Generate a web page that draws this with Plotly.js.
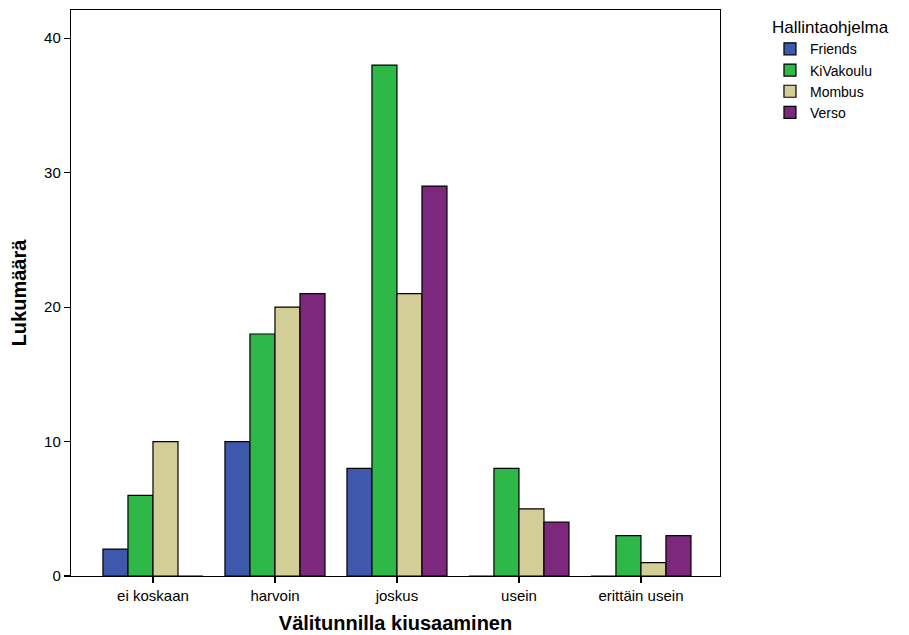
<!DOCTYPE html>
<html>
<head>
<meta charset="utf-8">
<script src="https://cdn.plot.ly/plotly-3.0.1.min.js"></script>
<style>html,body{margin:0;padding:0;background:#fff;}</style>
</head>
<body>
<div id="chart" style="width:909px;height:635px;"></div>
<script>
const categories = ["ei koskaan", "harvoin", "joskus", "usein", "erittäin usein"];
const seriesNames = ["Friends", "KiVakoulu", "Mombus", "Verso"];
const friends   = [2, 10, 8, 0, 0];
const kivakoulu = [6, 18, 38, 8, 3];
const mombus    = [10, 20, 21, 5, 1];
const verso     = [0, 21, 29, 4, 3];
const yTicks = [0, 10, 20, 30, 40];
const colors = ["#3e58ac", "#2eb848", "#d3ce97", "#7b287d"];
const values = [friends, kivakoulu, mombus, verso];

const font = "Liberation Sans, Arial, sans-serif";
const data = seriesNames.map((n, i) => ({
  type: "bar",
  name: n,
  x: categories.map((c, j) => j),
  y: values[i],
  marker: {color: colors[i], line: {color: "#000", width: 1.2}},
  hoverinfo: "none"
}));

const layout = {
  width: 909, height: 635,
  margin: {l: 71, r: 189, t: 10, b: 59},
  paper_bgcolor: "#fff", plot_bgcolor: "#fff",
  barmode: "group", bargap: 0.18, bargroupgap: 0,
  font: {family: font, color: "#000", size: 15},
  showlegend: true,
  legend: {
    x: 1.077, y: 0.998, xanchor: "left", yanchor: "top",
    title: {text: "Hallintaohjelma", side: "top", font: {size: 17, family: font}},
    font: {size: 14, family: font},
    tracegroupgap: 0, itemwidth: 30,
    bgcolor: "rgba(0,0,0,0)"
  },
  xaxis: {
    range: [-0.672, 4.648],
    tickmode: "array", tickvals: categories.map((c, j) => j), ticktext: categories,
    ticks: "outside", ticklen: 6, tickcolor: "#000", tickwidth: 1.2,
    showline: true, linecolor: "#000", linewidth: 1.2, mirror: true,
    showgrid: false, zeroline: false,
    tickfont: {size: 15, family: font},
    title: {text: "Välitunnilla kiusaaminen", font: {size: 20, family: font, weight: "bold"}, standoff: 12}
  },
  yaxis: {
    range: [0, 42.1],
    tickmode: "array", tickvals: yTicks, ticktext: yTicks.map(String),
    ticks: "outside", ticklen: 6, tickcolor: "#000", tickwidth: 1.2,
    showline: true, linecolor: "#000", linewidth: 1.2, mirror: true,
    showgrid: false, zeroline: false,
    tickfont: {size: 15, family: font},
    title: {text: "Lukumäärä", font: {size: 20, family: font, weight: "bold"}, standoff: 12}
  }
};

Plotly.newPlot("chart", data, layout, {displayModeBar: false, staticPlot: true});
</script>
</body>
</html>
